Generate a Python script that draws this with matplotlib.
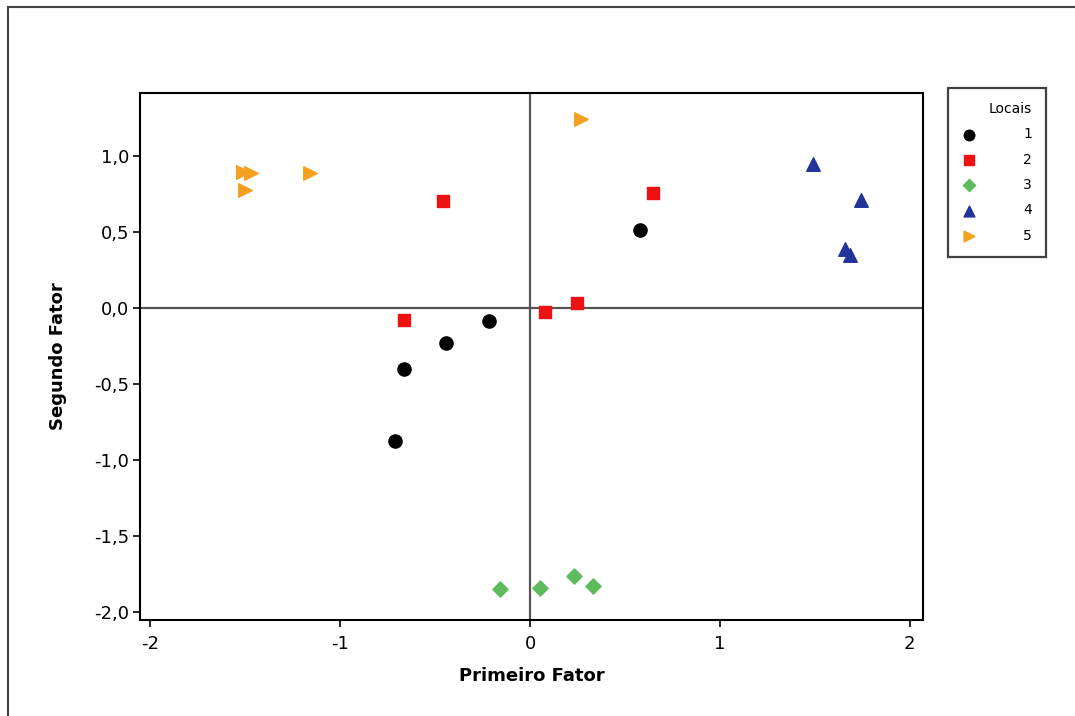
import numpy as np
import matplotlib
matplotlib.use("Agg")
from matplotlib import pyplot as plt
from matplotlib.lines import Line2D

# data
loc1_x = [0.581, -0.219, -0.443, -0.664, -0.711]
loc1_y = [0.515, -0.084, -0.230, -0.401, -0.877]
loc2_x = [-0.459, -0.664, 0.080, 0.245, 0.648]
loc2_y = [0.702, -0.079, -0.024, 0.033, 0.757]
loc3_x = [-0.159, 0.050, 0.234, 0.333]
loc3_y = [-1.849, -1.842, -1.761, -1.827]
loc4_x = [1.493, 1.745, 1.660, 1.683]
loc4_y = [0.947, 0.712, 0.388, 0.349]
loc5_x = [-1.51, -1.47, -1.50, -1.157, 0.270]
loc5_y = [0.895, 0.885, 0.776, 0.888, 1.243]

labels = ['1', '2', '3', '4', '5']
xticks = [-2, -1, 0, 1, 2]
xticklabels = ['-2', '-1', '0', '1', '2']
yticks = [-2.0, -1.5, -1.0, -0.5, 0.0, 0.5, 1.0]
yticklabels = ['-2,0', '-1,5', '-1,0', '-0,5', '0,0', '0,5', '1,0']

plt.rcParams['font.family'] = ['DejaVu Sans']

fig = plt.figure(figsize=(10.75, 7.16), dpi=100)
ax = fig.add_axes([140/1075, 96/716, 783/1075, 527/716])

ax.axhline(0, color='#555555', lw=1.6, zorder=1)
ax.axvline(0, color='#555555', lw=1.6, zorder=1)

ax.scatter(loc1_x, loc1_y, marker='o', s=90, color='#000000', zorder=3, label=labels[0])
ax.scatter(loc2_x, loc2_y, marker='s', s=80, color='#ee1111', zorder=3, label=labels[1])
ax.scatter(loc3_x, loc3_y, marker='D', s=60, color='#5dbb5d', zorder=3, label=labels[2])
ax.scatter(loc4_x, loc4_y, marker='^', s=95, color='#223399', zorder=3, label=labels[3])
ax.scatter(loc5_x, loc5_y, marker='>', s=95, color='#f5a01e', zorder=3, label=labels[4])

ax.set_xlim(-2.055, 2.07)
ax.set_ylim(-2.053, 1.414)
ax.set_xticks(xticks)
ax.set_xticklabels(xticklabels)
ax.set_yticks(yticks)
ax.set_yticklabels(yticklabels)
ax.tick_params(direction='out', length=5, width=1.2, labelsize=13, pad=3)
ax.tick_params(axis='x', pad=6)
for sp in ax.spines.values():
    sp.set_linewidth(1.5)

ax.set_xlabel('Primeiro Fator', fontsize=13, fontweight='bold', labelpad=10)
ax.set_ylabel('Segundo Fator', fontsize=13, fontweight='bold', labelpad=19)

leg = ax.legend(loc='upper left', bbox_to_anchor=(948/1075, 628/716),
                bbox_transform=fig.transFigure, title='Locais', fontsize=10,
                title_fontsize=10, frameon=True, fancybox=False, edgecolor='#111111',
                handletextpad=3.4, labelspacing=0.82, borderpad=1.0, markerscale=0.8,
                alignment='right', handlelength=1.0, borderaxespad=0)
leg.get_frame().set_linewidth(1.6)

# outer border of the picture
fig.add_artist(Line2D([8/1075, 8/1075], [0, 709/716], transform=fig.transFigure, color='#444444', lw=1.5))
fig.add_artist(Line2D([8/1075, 1], [709/716, 709/716], transform=fig.transFigure, color='#444444', lw=1.5))

fig.savefig('out.png', dpi=100)
